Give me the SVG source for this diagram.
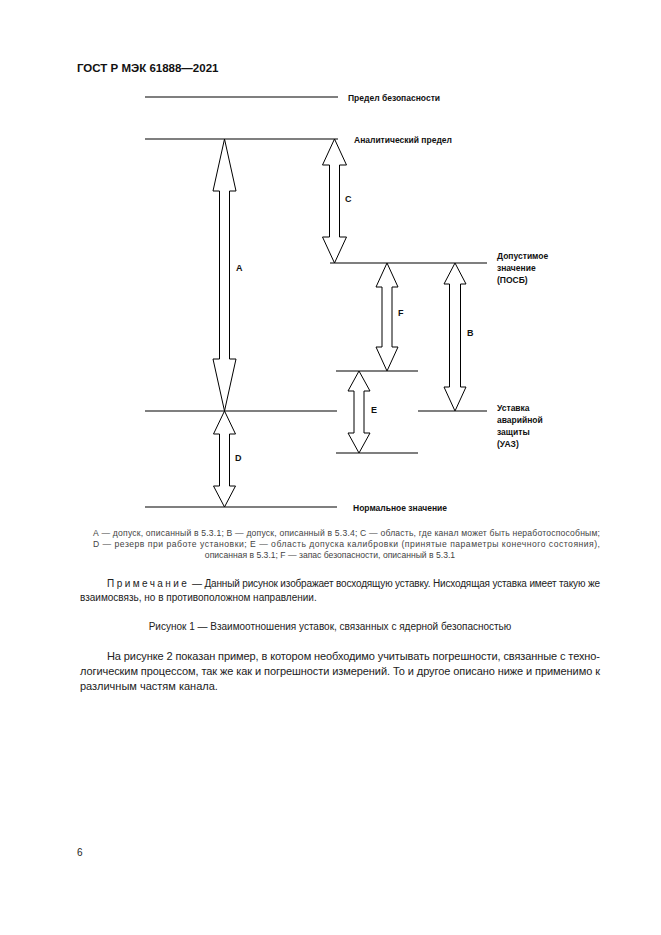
<svg xmlns="http://www.w3.org/2000/svg" width="661" height="935" viewBox="0 0 661 935">
<style>
.ln{stroke:#000;stroke-width:1.2;fill:none}
.ar{fill:#fff;stroke:#000;stroke-width:1}
.lb{font-family:"Liberation Sans",Arial,sans-serif;font-size:9px;font-weight:bold;fill:#111}
.lt{font-family:"Liberation Sans",Arial,sans-serif;font-size:8.5px;font-weight:bold;fill:#111}
.hd{font-family:"Liberation Sans",Arial,sans-serif;font-size:11.5px;font-weight:bold;fill:#111}
.lg{font-family:"Liberation Sans",Arial,sans-serif;font-size:8.6px;fill:#444}
.tx{font-family:"Liberation Sans",Arial,sans-serif;font-size:10px;fill:#222}
.pr{font-family:"Liberation Sans",Arial,sans-serif;font-size:11px;fill:#222}
</style>
<rect width="661" height="935" fill="#fff"/>
<text class="hd" x="77" y="72">ГОСТ Р МЭК 61888—2021</text>

<g id="connectors">
<path class="ln" d="M145 97H338"/>
<path class="ln" d="M145 139H338"/>
<path class="ln" d="M330 263H487"/>
<path class="ln" d="M336 371H418"/>
<path class="ln" d="M145 411H337"/>
<path class="ln" d="M418 411H487"/>
<path class="ln" d="M336 453H418"/>
<path class="ln" d="M145 507H337"/>
</g>

<g id="arrow-A">
<polygon class="ar" points="224.5,139 236,191 229.5,191 229.5,359 236,359 224.5,411 213,359 219.5,359 219.5,191 213,191"/>
<text class="lb" x="236" y="271">A</text>
</g>
<g id="arrow-C">
<polygon class="ar" points="334.5,139 346.5,165 339.5,165 339.5,237 346.5,237 334.5,263 322.5,237 329.5,237 329.5,165 322.5,165"/>
<text class="lb" x="345" y="202">C</text>
</g>
<g id="arrow-F">
<polygon class="ar" points="387,263 398,287 392,287 392,347 398,347 387,371 376,347 382,347 382,287 376,287"/>
<text class="lb" x="398" y="316">F</text>
</g>
<g id="arrow-B">
<polygon class="ar" points="455,263 466,284 460.5,284 460.5,387 466,387 455,411 444,387 449.5,387 449.5,284 444,284"/>
<text class="lb" x="467" y="336">B</text>
</g>
<g id="arrow-E">
<polygon class="ar" points="359,371 370,391 364,391 364,433 370,433 359,453 348,433 354,433 354,391 348,391"/>
<text class="lb" x="371" y="413">E</text>
</g>
<g id="arrow-D">
<polygon class="ar" points="224.5,411 235.5,434 229.5,434 229.5,486 235.5,486 224.5,507 213.5,486 219.5,486 219.5,434 213.5,434"/>
<text class="lb" x="235" y="461">D</text>
</g>

<g id="label-safety-limit"><text class="lt" x="348" y="101">Предел безопасности</text></g>
<g id="label-analytical-limit"><text class="lt" x="354" y="143">Аналитический предел</text></g>
<g id="label-allowable"><text class="lt"><tspan x="497" y="259">Допустимое</tspan><tspan x="497" y="271">значение</tspan><tspan x="497" y="283">(ПОСБ)</tspan></text></g>
<g id="label-setpoint"><text class="lt"><tspan x="497" y="411">Уставка</tspan><tspan x="497" y="423">аварийной</tspan><tspan x="497" y="435">защиты</tspan><tspan x="497" y="447">(УАЗ)</tspan></text></g>
<g id="label-normal"><text class="lt" x="353" y="511">Нормальное значение</text></g>

<text class="lg" x="93" y="536" textLength="507" lengthAdjust="spacing">А — допуск, описанный в 5.3.1; В — допуск, описанный в 5.3.4; С — область, где канал может быть неработоспособным;</text>
<text class="lg" x="93" y="547" textLength="507" lengthAdjust="spacing">D — резерв при работе установки; Е — область допуска калибровки (принятые параметры конечного состояния),</text>
<text class="lg" x="330" y="558" text-anchor="middle">описанная в 5.3.1; F — запас безопасности, описанный в 5.3.1</text>

<text class="tx" x="107" y="587" textLength="493" lengthAdjust="spacing"><tspan letter-spacing="2.6">Примечание</tspan> — Данный рисунок изображает восходящую уставку. Нисходящая уставка имеет такую же</text>
<text class="tx" x="80" y="601">взаимосвязь, но в противоположном направлении.</text>

<text class="tx" x="330" y="630" text-anchor="middle">Рисунок 1 — Взаимоотношения уставок, связанных с ядерной безопасностью</text>

<text class="pr" x="107" y="660" textLength="493" lengthAdjust="spacing">На рисунке 2 показан пример, в котором необходимо учитывать погрешности, связанные с техно-</text>
<text class="pr" x="80" y="675" textLength="520" lengthAdjust="spacing">логическим процессом, так же как и погрешности измерений. То и другое описано ниже и применимо к</text>
<text class="pr" x="80" y="690">различным частям канала.</text>

<text class="tx" x="77" y="856">6</text>
</svg>
